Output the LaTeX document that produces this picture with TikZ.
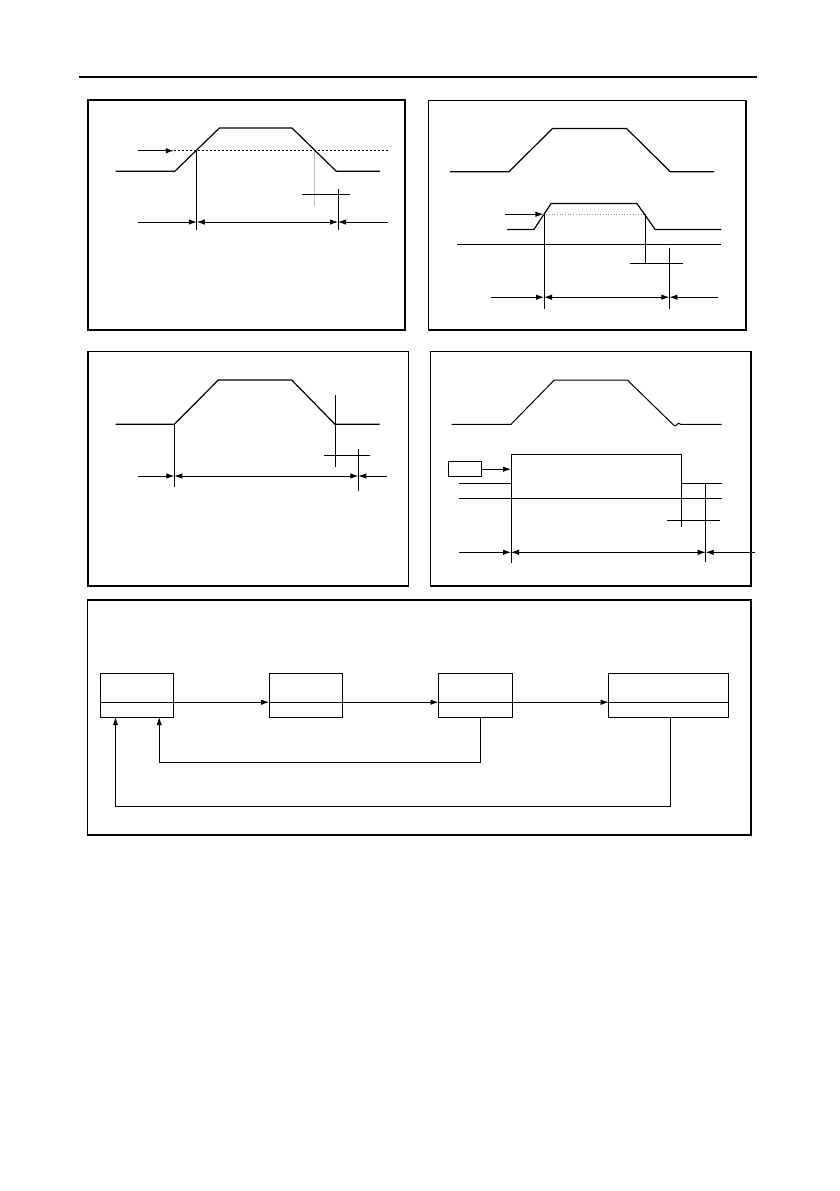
\documentclass[tikz,border=0pt]{standalone}
\usetikzlibrary{arrows.meta}
\begin{document}
\begin{tikzpicture}[x=1pt,y=-1pt,
  frame/.style={draw,line width=1.1pt},
  trace/.style={line width=1.2pt,line join=miter},
  thin/.style={line width=0.9pt},
  arr/.style={thin,-{Latex[length=8pt,width=5.5pt]}},
  darr/.style={thin,{Latex[length=8pt,width=5.5pt]}-{Latex[length=8pt,width=5.5pt]}},
  blk/.style={draw,line width=1.1pt,rectangle,inner sep=0pt,outer sep=0pt,minimum height=44.1pt}]
\fill[white] (0,0) rectangle (839,1191);
\useasboundingbox (0,0) rectangle (839,1191);
% header rule
\draw[line width=2pt] (79,76.5) -- (757,76.5);

% ---------------- panel frames
\draw[frame] (88,100) rectangle (405,330);
\draw[frame] (428.5,100.5) rectangle (746,330);
\draw[frame] (88,351.5) rectangle (408.5,586);
\draw[frame] (430.5,351.5) rectangle (751,586);
\draw[frame] (87.5,600) rectangle (751,835);

% ---------------- panel 1
\draw[trace] (115.7,171.3) -- (174.8,171.3) -- (219.4,128) -- (292,128) -- (336.3,171.3) -- (380.2,171.3);
\draw[line width=0.8pt,dash pattern=on 2.5pt off 1.5pt] (173.8,150.7) -- (387.7,150.7);
\draw[arr] (137.7,150.7) -- (173.8,150.7);
\draw[thin] (196.8,150.7) -- (196.8,229.7);
\draw[line width=1pt,black!25] (314.4,150.7) -- (314.4,206.3);
\draw[thin] (302.2,194.7) -- (349.5,194.7);
\draw[thin] (338,189) -- (338,229.7);
\draw[arr] (137.7,222) -- (196.8,222);
\draw[darr] (196.8,222) -- (338,222);
\draw[arr] (387.7,222) -- (338,222);

% ---------------- panel 2
\draw[trace] (449.8,171.8) -- (508.9,171.8) -- (552.5,128.5) -- (626.5,128.5) -- (670.4,171.8) -- (714,171.8);
\draw[trace] (507.2,229.5) -- (533.9,229.5) -- (551.1,203.5) -- (636.9,203.5) -- (655.2,229.5) -- (721.4,229.5);
\draw[line width=0.7pt,black!45,dotted] (543.4,214.2) -- (645.4,214.2);
\draw[arr] (505.2,214.2) -- (543.4,214.2);
\draw[thin] (457.2,244.2) -- (721.4,244.2);
\draw[thin] (544,214.2) -- (544,308.5);
\draw[thin] (645.4,214.2) -- (645.4,263.5);
\draw[thin] (669.4,247.5) -- (669.4,308.5);
\draw[thin] (630.2,263.5) -- (682.9,263.5);
\draw[arr] (491.3,297.2) -- (544,297.2);
\draw[darr] (544,297.2) -- (669.4,297.2);
\draw[arr] (718.4,297.2) -- (669.4,297.2);

% ---------------- panel 3
\draw[trace] (115.7,424.3) -- (174.3,424.3) -- (218.3,380) -- (291.7,380) -- (335,424.3) -- (379.7,424.3);
\draw[thin] (174.3,424.3) -- (174.3,486.7);
\draw[thin] (335,395) -- (335,466.7);
\draw[thin] (323.7,455) -- (370.3,455);
\draw[thin] (358.3,449.3) -- (358.3,490.7);
\draw[arr] (137.7,476) -- (174.3,476);
\draw[darr] (174.3,476) -- (358.3,476);
\draw[arr] (386.7,476) -- (358.3,476);

% ---------------- panel 4
\draw[trace,line width=1pt] (451.7,424.3) -- (511,424.3) -- (554.3,380) -- (627.3,380) -- (673.3,424.8)
  .. controls (675,426.3) and (676.3,426.3) .. (677,424.5)
  .. controls (677.8,422.6) and (679,423) .. (680.5,424.3) -- (721.7,424.3);
\draw[thin,line join=miter] (459.3,483.3) -- (511,483.3) -- (511,454) -- (681,454) -- (681,483.3) -- (721.7,483.3);
\draw[thin] (511,483.3) -- (511,563.3);
\draw[thin] (681,483.3) -- (681,526.7);
\draw[thin] (459.3,498.3) -- (721.7,498.3);
\node[draw,line width=1pt,rectangle,inner sep=0pt,minimum width=33.4pt,minimum height=15pt] (sb) at (465,469.2) {};
\draw[arr] (sb.east) -- (511,469.2);
\draw[thin] (705.7,483.3) -- (705.7,561.7);
\draw[thin] (666.7,520) -- (720,520);
\draw[arr] (459.3,552.3) -- (511,552.3);
\draw[darr] (511,552.3) -- (705.7,552.3);
\draw[arr] (755,552.3) -- (705.7,552.3);

% ---------------- panel 5 (block diagram)
\node[blk,minimum width=73.6pt] (A) at (136.9,695.15) {};
\node[blk,minimum width=73.5pt] (B) at (305.85,695.15) {};
\node[blk,minimum width=74.4pt] (C) at (475.7,695.15) {};
\node[blk,minimum width=120.2pt] (D) at (668.8,695.15) {};
\foreach \n in {A,B,C,D}{\draw[line width=1.1pt] ([yshift=-7.05pt]\n.west) -- ([yshift=-7.05pt]\n.east);}
\draw[arr] ([yshift=-7.05pt]A.east) -- ([yshift=-7.05pt]B.west);
\draw[arr] ([yshift=-7.05pt]B.east) -- ([yshift=-7.05pt]C.west);
\draw[arr] ([yshift=-7.05pt]C.east) -- ([yshift=-7.05pt]D.west);
\draw[arr] ([xshift=5.1pt]C.south) -- ++(0,45) -| ([xshift=-14.5pt]A.south east);
\draw[arr] ([xshift=1.9pt]D.south) -- ++(0,88.8) -| ([xshift=15.4pt]A.south west);
\end{tikzpicture}
\end{document}
